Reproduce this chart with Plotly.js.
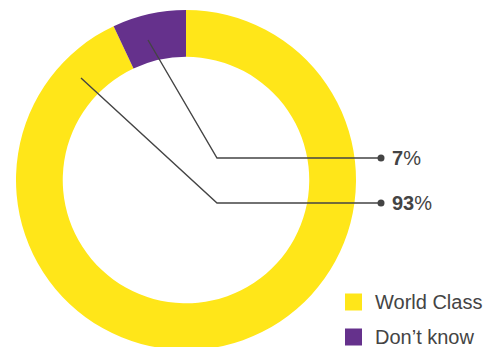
<!DOCTYPE html>
<html><head><meta charset="utf-8">
<script src="https://cdn.plot.ly/plotly-3.0.1.min.js"></script>
<style>html,body{margin:0;padding:0;overflow:hidden;background:#fff}#chart{width:499px;height:360px}</style>
</head><body><div id="chart"></div>
<script>
const categories = ["World Class", "Don\u2019t know"];
const values = [93, 7];
const colors = ["#FFE619", "#65318C"];

const W = 499, H = 360;
const px = x => x / W, py = y => (H - y) / H;
const textColor = "#444444";
const font = "Liberation Sans, Arial, Helvetica, sans-serif";

const trace = {
  type: "pie", labels: categories, values: values,
  marker: {colors: colors, line: {width: 0}},
  hole: 0.725, sort: false, direction: "clockwise", rotation: 0,
  textinfo: "none", hoverinfo: "label+percent", showlegend: false,
  domain: {x: [16 / W, 356 / W], y: [py(350), py(10)]}
};

// leader lines: [start, elbow, end y] per category
const leaders = [
  {idx: 1, sx: 148, sy: 40, ex: 217, y: 158},
  {idx: 0, sx: 81, sy: 78, ex: 217, y: 203}
];
const shapes = [], annotations = [];
leaders.forEach(l => {
  shapes.push({type: "path", xref: "paper", yref: "paper",
    path: `M ${px(l.sx)} ${py(l.sy)} L ${px(l.ex)} ${py(l.y)} L ${px(381)} ${py(l.y)}`,
    line: {color: textColor, width: 1.4}});
  shapes.push({type: "circle", xref: "paper", yref: "paper",
    x0: px(377.5), x1: px(384.5), y0: py(l.y + 3.5), y1: py(l.y - 3.5),
    fillcolor: textColor, line: {width: 0}});
  annotations.push({xref: "paper", yref: "paper", x: px(390), y: py(l.y),
    xanchor: "left", yanchor: "middle", showarrow: false,
    text: `<b>${values[l.idx]}</b>%`, font: {family: font, size: 20, color: textColor}});
});
// legend
categories.forEach((c, i) => {
  const cy = 302 + i * 35;
  shapes.push({type: "rect", xref: "paper", yref: "paper",
    x0: px(345), x1: px(362), y0: py(cy + 8.5), y1: py(cy - 8.5),
    fillcolor: colors[i], line: {width: 0}});
  annotations.push({xref: "paper", yref: "paper", x: px(373), y: py(cy),
    xanchor: "left", yanchor: "middle", showarrow: false,
    text: c, font: {family: font, size: 20, color: textColor}});
});

Plotly.newPlot("chart", [trace], {
  width: W, height: H, margin: {l: 0, r: 0, t: 0, b: 0},
  paper_bgcolor: "#fff", plot_bgcolor: "#fff",
  shapes: shapes, annotations: annotations, showlegend: false
}, {displayModeBar: false, staticPlot: true});
</script></body></html>
